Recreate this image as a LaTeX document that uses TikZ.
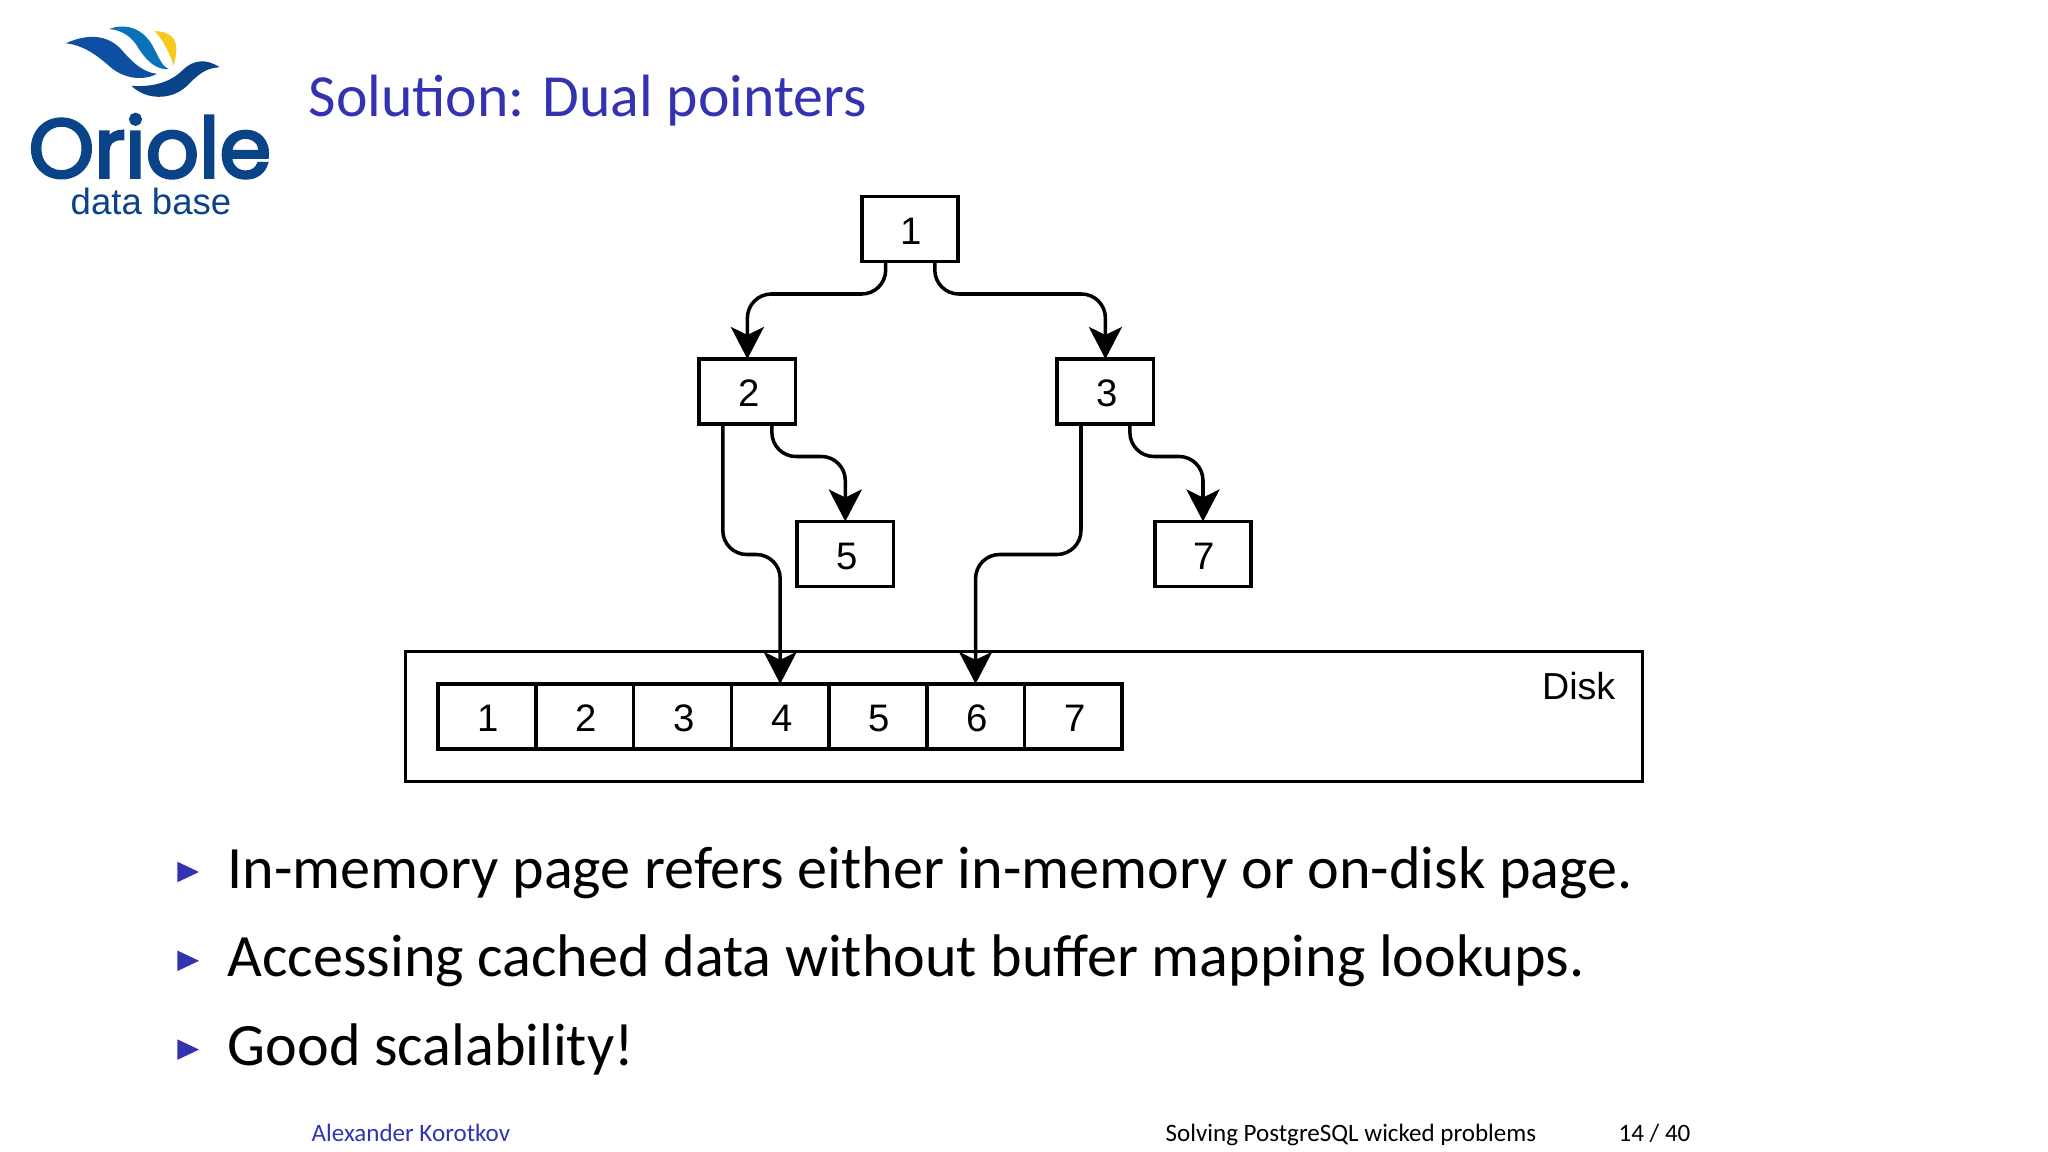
\documentclass[tikz,border=0pt]{standalone}
\usepackage{fontspec}
\usepackage{xcolor}
\usetikzlibrary{arrows.meta}
\setmainfont{Carlito}[Ligatures=Common]
\newfontfamily\boxfont{Liberation Sans}
\newfontfamily\logofont{Poppins}[FakeBold=3.4]
\definecolor{beamerblue}{HTML}{3333B2}
\definecolor{logodark}{HTML}{0B4389}
\definecolor{logomid}{HTML}{0A72B8}
\definecolor{logowing}{HTML}{0D4FA3}
\definecolor{logoyellow}{HTML}{F8C81C}

\begin{document}
\begin{tikzpicture}[
		page/.style={draw,line width=1pt,outer sep=0pt,minimum width=0.965cm,minimum height=0.65cm,inner sep=0pt,text height=0.31cm,text depth=0pt,execute at begin node={\hspace*{0.03cm}},font=\boxfont\fontsize{10.9}{12}\selectfont},
		cell/.style={page,minimum width=0.977cm},
		link/.style={-{Stealth[length=3.2mm,width=3.3mm,inset=0.8mm]},line width=1pt,rounded corners=0.24cm},
		item/.style={anchor=base west,inner sep=0pt,font=\fontsize{17.11}{20}\selectfont},
		bullet/.style={fill=beamerblue,draw=none},
		foot/.style={anchor=base west,inner sep=0pt,font=\fontsize{7.12}{8}\selectfont}
	]
		\useasboundingbox (0,0) rectangle (20.48,-11.52);

		\begin{scope}[shift={(0.2,-0.1)},x=0.00333cm,y=-0.00333cm]
			\fill[logowing] (138,100) .. controls (200,72) and (265,70) .. (310,125) .. controls (345,165) and (375,188) .. (412,192) .. controls (375,212) and (315,210) .. (270,170) .. controls (225,130) and (185,105) .. (138,100) -- cycle;
			\fill[logomid] (268,57) .. controls (320,38) and (375,55) .. (405,120) .. controls (420,150) and (430,170) .. (447,178) .. controls (410,180) and (380,155) .. (350,105) .. controls (330,75) and (300,60) .. (268,57) -- cycle;
			\fill[logoyellow] (405,63) .. controls (450,65) and (472,85) .. (470,120) .. controls (469,140) and (465,155) .. (462,167) .. controls (450,130) and (430,90) .. (405,63) -- cycle;
			\fill[logodark] (600,172) .. controls (560,145) and (520,150) .. (490,180) .. controls (450,220) and (395,232) .. (335,228) .. controls (375,268) and (450,275) .. (500,230) .. controls (535,195) and (555,175) .. (600,172) -- cycle;
		\end{scope}
		\node[anchor=base west,inner sep=0pt,text=logodark,font=\logofont\fontsize{23.7}{26}\selectfont] (logoname) at (0.28,-1.775) {Oriole};
		\node[anchor=base west,inner sep=0pt,text=logodark,font=\boxfont\fontsize{10.4}{12}\selectfont] (logosub) at (0.70,-2.15) {data base};

		\node[anchor=base west,inner sep=0pt,text=beamerblue,font=\fontsize{17}{20}\selectfont] (title) at (3.08,-1.17) {Solution: Dual pointers};

		\node[page] (n1) at (9.10,-2.29) {1};
		\node[page] (n2) at (7.474,-3.915) {2};
		\node[page] (n3) at (11.054,-3.915) {3};
		\node[page] (n5) at (8.453,-5.54) {5};
		\node[page] (n7) at (12.03,-5.54) {7};

		\node[draw,line width=1pt,minimum width=12.374cm,minimum height=1.30cm,inner sep=0pt] (disk) at (10.24,-7.167) {};
		\node[anchor=base east,inner sep=0pt,font=\boxfont\fontsize{10.7}{12}\selectfont] (disklabel) at (16.16,-6.995) {Disk};
		\node[cell] (d1) at (4.871,-7.164) {1};
		\node[cell] (d2) at (5.848,-7.164) {2};
		\node[cell] (d3) at (6.825,-7.164) {3};
		\node[cell] (d4) at (7.802,-7.164) {4};
		\node[cell] (d5) at (8.779,-7.164) {5};
		\node[cell] (d6) at (9.756,-7.164) {6};
		\node[cell] (d7) at (10.733,-7.164) {7};

		\draw[link] ([xshift=-0.243cm]n1.south) -- ++(0,-0.325) -| (n2.north);
		\draw[link] ([xshift=0.248cm]n1.south) -- ++(0,-0.325) -| (n3.north);
		\draw[link] ([xshift=0.245cm]n2.south) -- ++(0,-0.325) -| (n5.north);
		\draw[link] ([xshift=0.245cm]n3.south) -- ++(0,-0.325) -| (n7.north);
		\draw[link] ([xshift=-0.246cm]n2.south) -- ++(0,-1.305) -| (d4.north);
		\draw[link] ([xshift=-0.244cm]n3.south) -- ++(0,-1.305) -| (d6.north);

		\fill[bullet] (1.773,-8.617) -- (1.99,-8.72) -- (1.773,-8.823) -- cycle;
		\fill[bullet] (1.773,-9.505) -- (1.99,-9.608) -- (1.773,-9.711) -- cycle;
		\fill[bullet] (1.773,-10.393) -- (1.99,-10.496) -- (1.773,-10.599) -- cycle;
		\node[item] (line1) at (2.27,-8.88) {In-memory page refers either in-memory or on-disk page.};
		\node[item] (line2) at (2.27,-9.768) {Accessing cached data without buffer mapping lookups.};
		\node[item] (line3) at (2.27,-10.653) {Good scalability!};

		\node[foot,text=beamerblue] (author) at (3.11,-11.413) {Alexander Korotkov};
		\node[foot] (talk) at (11.65,-11.413) {Solving PostgreSQL wicked problems};
		\node[foot] (pageno) at (16.18,-11.413) {14 / 40};
	\end{tikzpicture}
\end{document}
